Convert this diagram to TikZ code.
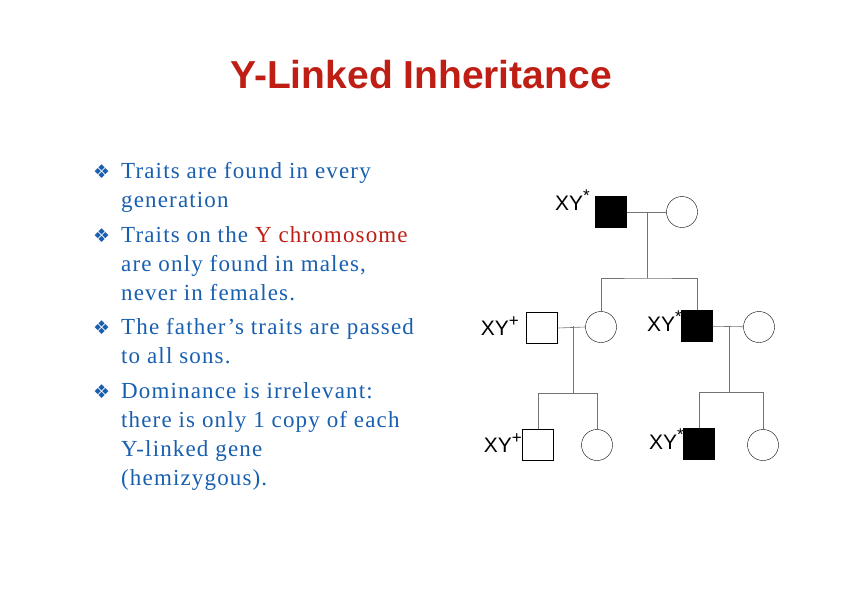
\documentclass[tikz,border=0pt]{standalone}
\usepackage{fontspec}
\setmainfont{Liberation Serif}
\setsansfont{Liberation Sans}
\newfontfamily\symfont{DejaVu Sans}
\definecolor{titlered}{RGB}{190,30,20}
\definecolor{textblue}{RGB}{25,95,175}
\newcommand{\gsup}[1]{\raisebox{9pt}{\fontsize{17}{17}\selectfont #1}}
\tikzset{
  male/.style={draw, minimum size=31pt, inner sep=0pt},
  affected/.style={male, fill=black},
  female/.style={draw, circle, minimum size=31pt, inner sep=0pt},
  line/.style={draw=black!55, line width=0.6pt},
  geno/.style={font=\sffamily\fontsize{21}{21}\selectfont, anchor=base east, inner sep=0pt},
  bullet/.style={anchor=base west, text=textblue, font=\fontsize{23}{23}\selectfont\addfontfeature{LetterSpace=5}, inner sep=0pt},
}
\begin{document}
\begin{tikzpicture}[x=1pt,y=-1pt]
	\useasboundingbox (0,0) rectangle (842,595);
	
	% titolo
	\node[font=\sffamily\bfseries\fontsize{39}{39}\selectfont, text=titlered] (title) at (421,75) {Y-Linked Inheritance};
	
	% elenco puntato
	\foreach \yy in {178,242,334,398}
		\node[bullet, font=\symfont\fontsize{19}{19}\selectfont] at (93,\yy) {❖};
	\node[bullet] (l1) at (121,178) {Traits are found in every};
	\node[bullet] (l2) at (121,207) {generation};
	\node[bullet] (l3) at (121,242) {Traits on the \textcolor{titlered}{Y chromosome}};
	\node[bullet] (l4) at (121,271) {are only found in males,};
	\node[bullet] (l5) at (121,300) {never in females.};
	\node[bullet] (l6) at (121,334) {The father’s traits are passed};
	\node[bullet] (l7) at (121,363) {to all sons.};
	\node[bullet] (l8) at (121,398) {Dominance is irrelevant:};
	\node[bullet] (l9) at (121,427) {there is only 1 copy of each};
	\node[bullet] (l10) at (121,456) {Y-linked gene};
	\node[bullet] (l11) at (121,485) {(hemizygous).};
	
	% prima generazione
	\node[affected] (gf) at (611,212) {};
	\node[female] (gm) at (682,212) {};
	\node[geno] at (590,210) {XY\gsup{*}};
	
	% seconda generazione
	\node[male] (f1) at (542,328) {};
	\node[female] (d1) at (601,327) {};
	\node[affected] (s1) at (697,326) {};
	\node[female] (w1) at (759,327) {};
	\node[geno] at (519,335) {XY\gsup{+}};
	\node[geno] at (682,331) {XY\gsup{*}};
	
	% terza generazione
	\node[male] (c1) at (538,445) {};
	\node[female] (c2) at (597,445) {};
	\node[affected] (c3) at (699,444) {};
	\node[female] (c4) at (763,445) {};
	\node[geno] at (522,452) {XY\gsup{+}};
	\node[geno] at (684,449) {XY\gsup{*}};
	
	% linee
	\coordinate (m1) at (647,212);
	\coordinate (m2) at (573,326);
	\coordinate (m3) at (729,326);
	\path[line] (gf) -- (gm);
	\path[line] (m1) -- (647,278);
	\path[line] (d1.north) |- (647,278) -| (s1.north);
	\path[line] (f1.east) -- (d1.west);
	\path[line] (m2) -- (573,393);
	\path[line] (c1.north) |- (573,393) -| (c2.north);
	\path[line] (s1) -- (w1);
	\path[line] (m3) -- (729,392);
	\path[line] (c3.north) |- (729,392) -| (c4.north);
	
\end{tikzpicture}
\end{document}
